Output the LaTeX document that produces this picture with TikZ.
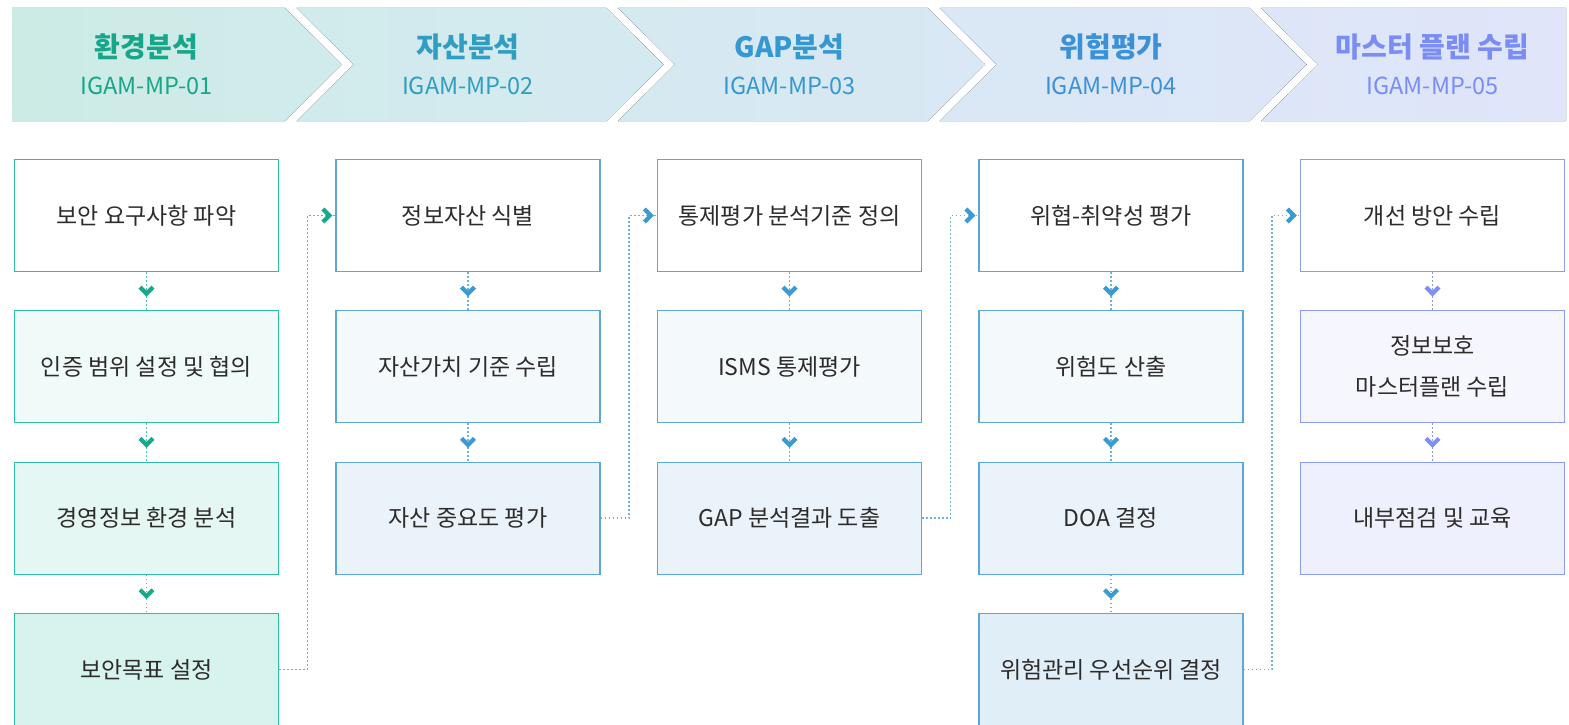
\documentclass[tikz,border=0pt]{standalone}
\usepackage{fontspec}
\setmainfont{Noto Sans CJK KR}
\usepackage{tikz}
\usetikzlibrary{calc,positioning}

\definecolor{txtdark}{HTML}{2E2B2B}
\definecolor{ttlA}{HTML}{17A689}
\definecolor{ttlB}{HTML}{2F9EC2}
\definecolor{ttlC}{HTML}{3598D2}
\definecolor{ttlD}{HTML}{3B91D8}
\definecolor{ttlE}{HTML}{7A8DF4}
\definecolor{bdA}{HTML}{2CBEA3}
\definecolor{bdB}{HTML}{5CA6DA}
\definecolor{bdE}{HTML}{8D9DF6}
\definecolor{dtA}{HTML}{4DC3AE}
\definecolor{dtB}{HTML}{6AB2E0}
\definecolor{dtE}{HTML}{8496F5}
\definecolor{chA}{HTML}{16A98B}
\definecolor{chB}{HTML}{3A9BD3}
\definecolor{chE}{HTML}{7E8FF5}
\definecolor{hd0}{HTML}{CCEBE5}
\definecolor{hd1}{HTML}{D1EBEC}
\definecolor{hd2}{HTML}{D5E9F1}
\definecolor{hd3}{HTML}{D9E8F4}
\definecolor{hd4}{HTML}{DDE6F8}
\definecolor{hd5}{HTML}{E0E5FA}

\tikzset{
  vchev/.pic={\draw[line width=4.2pt,miter limit=4] (-6.5,4) -- (0,-2.5) -- (6.5,4);},
  hchev/.pic={\draw[line width=4.2pt,miter limit=4] (-4,-6.5) -- (2.5,0) -- (-4,6.5);}
}

\begin{document}
\begin{tikzpicture}[x=1pt,y=1pt,yscale=-1,xscale=1,
    box/.style={draw,line width=1.2pt,minimum width=264pt,minimum height=112pt,inner sep=0pt,
      align=center,text=txtdark,font=\fontsize{23}{41}\selectfont},
    boxA/.style={box,draw=bdA},
    boxB/.style={box,draw=bdB},
    boxE/.style={box,draw=bdE},
    ttl/.style={font=\fontsize{28}{32}\selectfont\bfseries,inner sep=0pt},
    sub/.style={font=\fontsize{23.5}{27}\selectfont,inner sep=0pt},
    dotA/.style={draw=dtA,line width=1.5pt,dash pattern=on 1.5pt off 2.5pt},
    dotB/.style={draw=dtB,line width=1.5pt,dash pattern=on 1.5pt off 2.5pt},
    dotE/.style={draw=dtE,line width=1.5pt,dash pattern=on 1.5pt off 2.5pt}]
        \useasboundingbox (0,0) rectangle (1569,725);
        \clip (0,0) rectangle (1569,725);
        %Shape: Chevron band 
        \fill[left color=hd0,right color=hd1] (12,8) -- (285,8) -- (342,64.5) -- (285,121) -- (12,121) -- cycle ;
        \fill[left color=hd1,right color=hd2] (296.5,8) -- (606.5,8) -- (663.5,64.5) -- (606.5,121) -- (296.5,121) -- (353.5,64.5) -- cycle ;
        \fill[left color=hd2,right color=hd3] (618,8) -- (928,8) -- (985,64.5) -- (928,121) -- (618,121) -- (675,64.5) -- cycle ;
        \fill[left color=hd3,right color=hd4] (939.5,8) -- (1249.5,8) -- (1306.5,64.5) -- (1249.5,121) -- (939.5,121) -- (996.5,64.5) -- cycle ;
        \fill[left color=hd4,right color=hd5] (1261,8) -- (1566,8) -- (1566,121) -- (1261,121) -- (1318,64.5) -- cycle ;
        % Text Node
        \node[ttl,text=ttlA] (t1) at (146.5,47) {환경분석};
        \node[sub,text=ttlA] (s1) at (146.5,85.5) {IGAM-MP-01};
        \node[ttl,text=ttlB] (t2) at (468,47) {자산분석};
        \node[sub,text=ttlB] (s2) at (468,85.5) {IGAM-MP-02};
        \node[ttl,text=ttlC] (t3) at (789.5,47) {GAP분석};
        \node[sub,text=ttlC] (s3) at (789.5,85.5) {IGAM-MP-03};
        \node[ttl,text=ttlD] (t4) at (1111,47) {위험평가};
        \node[sub,text=ttlD] (s4) at (1111,85.5) {IGAM-MP-04};
        \node[ttl,text=ttlE] (t5) at (1432.5,47) {마스터 플랜 수립};
        \node[sub,text=ttlE] (s5) at (1432.5,85.5) {IGAM-MP-05};
        %Shape: Rectangle 
        \node[boxA,fill=white] (a1) at (146.5,215.5) {보안 요구사항 파악};
        \node[boxA,fill=bdA!7] (a2) at (146.5,366.8) {인증 범위 설정 및 협의};
        \node[boxA,fill=bdA!13] (a3) at (146.5,518.1) {경영정보 환경 분석};
        \node[boxA,fill=bdA!19] (a4) at (146.5,669.4) {보안목표 설정};
        \node[boxB,fill=white] (b1) at (468,215.5) {정보자산 식별};
        \node[boxB,fill=bdB!7] (b2) at (468,366.8) {자산가치 기준 수립};
        \node[boxB,fill=bdB!13] (b3) at (468,518.1) {자산 중요도 평가};
        \node[boxB,fill=white] (c1) at (789.5,215.5) {통제평가 분석기준 정의};
        \node[boxB,fill=bdB!7] (c2) at (789.5,366.8) {ISMS 통제평가};
        \node[boxB,fill=bdB!13] (c3) at (789.5,518.1) {GAP 분석결과 도출};
        \node[boxB,fill=white] (d1) at (1111,215.5) {위협-취약성 평가};
        \node[boxB,fill=bdB!7] (d2) at (1111,366.8) {위험도 산출};
        \node[boxB,fill=bdB!13] (d3) at (1111,518.1) {DOA 결정};
        \node[boxB,fill=bdB!19] (d4) at (1111,669.4) {위험관리 우선순위 결정};
        \node[boxE,fill=white] (e1) at (1432.5,215.5) {개선 방안 수립};
        \node[boxE,fill=bdE!8] (e2) at (1432.5,366.8) {정보보호\\마스터플랜 수립};
        \node[boxE,fill=bdE!15] (e3) at (1432.5,518.1) {내부점검 및 교육};
        %Straight Lines 
        \draw[dotA] (a1) -- (a2) ;
        \draw[dotA] (a2) -- (a3) ;
        \draw[dotA] (a3) -- (a4) ;
        \draw[dotB] (b1) -- (b2) ;
        \draw[dotB] (b2) -- (b3) ;
        \draw[dotB] (c1) -- (c2) ;
        \draw[dotB] (c2) -- (c3) ;
        \draw[dotB] (d1) -- (d2) ;
        \draw[dotB] (d2) -- (d3) ;
        \draw[dotB] (d3) -- (d4) ;
        \draw[dotE] (e1) -- (e2) ;
        \draw[dotE] (e2) -- (e3) ;
        %Straight Lines 
        \draw[dotA] (a4.east) -- ++(28.5,0) |- (b1.west) ;
        \draw[dotB] (b3.east) -- ++(28.5,0) |- (c1.west) ;
        \draw[dotB] (c3.east) -- ++(28.5,0) |- (d1.west) ;
        \draw[dotB] (d4.east) -- ++(28.5,0) |- (e1.west) ;
        %Shape: Chevron 
        \pic[color=chA] at ($(a1.south)!0.5!(a2.north)$) {vchev};
        \pic[color=chA] at ($(a2.south)!0.5!(a3.north)$) {vchev};
        \pic[color=chA] at ($(a3.south)!0.5!(a4.north)$) {vchev};
        \pic[color=chB] at ($(b1.south)!0.5!(b2.north)$) {vchev};
        \pic[color=chB] at ($(b2.south)!0.5!(b3.north)$) {vchev};
        \pic[color=chB] at ($(c1.south)!0.5!(c2.north)$) {vchev};
        \pic[color=chB] at ($(c2.south)!0.5!(c3.north)$) {vchev};
        \pic[color=chB] at ($(d1.south)!0.5!(d2.north)$) {vchev};
        \pic[color=chB] at ($(d2.south)!0.5!(d3.north)$) {vchev};
        \pic[color=chB] at ($(d3.south)!0.5!(d4.north)$) {vchev};
        \pic[color=chE] at ($(e1.south)!0.5!(e2.north)$) {vchev};
        \pic[color=chE] at ($(e2.south)!0.5!(e3.north)$) {vchev};
        \pic[color=chA] at ($(b1.west)+(-8.5,0)$) {hchev};
        \pic[color=chB] at ($(c1.west)+(-8.5,0)$) {hchev};
        \pic[color=chB] at ($(d1.west)+(-8.5,0)$) {hchev};
        \pic[color=chB] at ($(e1.west)+(-8.5,0)$) {hchev};
\end{tikzpicture}
\end{document}
